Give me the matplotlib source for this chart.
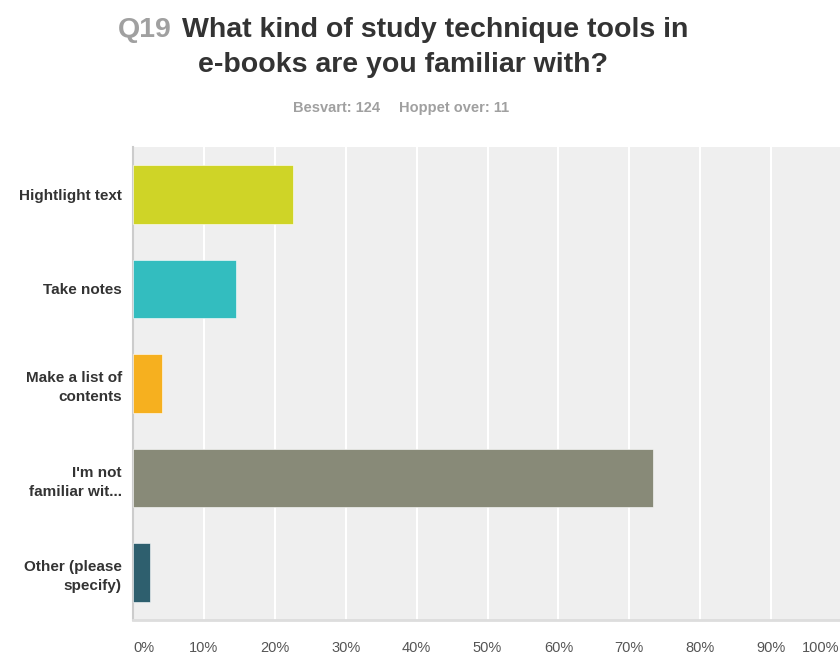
import matplotlib.pyplot as plt
import matplotlib.transforms as mtransforms
import numpy as np

# Survey answers (share of respondents, %)
categories = [
    "Hightlight text",
    "Take notes",
    "Make a list of\ncontents",
    "I'm not\nfamiliar wit...",
    "Other (please\nspecify)",
]
percent = [22.58, 14.52, 4.03, 73.39, 2.42]
colors = ["#cfd427", "#33bdbf", "#f6b01f", "#888a78", "#2e5f6e"]
tick_values = list(range(0, 101, 10))
tick_labels = [f"{v}%" for v in tick_values]

W, H = 840, 654
fig = plt.figure(figsize=(W / 100, H / 100), dpi=100)
fig.patch.set_facecolor("white")
plt.rcParams["font.family"] = ["Liberation Sans", "DejaVu Sans"]

# Plot area in pixels: left 133, right ~843, top 147, bottom 620
ax = fig.add_axes([133 / W, 1 - 620 / H, 709 / W, (620 - 147) / H])
ax.set_facecolor("#efefef")

y = np.arange(len(categories))
ax.barh(y, percent, height=0.62, color=colors, edgecolor="#ffffff", linewidth=0.4,
        zorder=3)
ax.set_ylim(len(categories) - 0.5, -0.5)
ax.set_xlim(0, 100)

ax.set_xticks(tick_values)
ax.set_xticklabels(tick_labels, fontsize=10.5, color="#555555")
ax.set_yticks(y)
ax.set_yticklabels(categories, fontsize=11, color="#333333", fontweight="bold",
                   linespacing=1.45)
ax.tick_params(axis="x", length=0, pad=15)
ax.tick_params(axis="y", length=0, pad=8)

# keep the end labels inside the figure
xlabels = ax.get_xticklabels()
xlabels[0].set_horizontalalignment("left")
xlabels[-1].set_horizontalalignment("right")
xlabels[-1].set_transform(xlabels[-1].get_transform()
                          + mtransforms.ScaledTranslation(-3 / 100, 0, fig.dpi_scale_trans))

ax.grid(axis="x", color="white", linewidth=1.5, zorder=1)
ax.set_axisbelow(True)
for side in ["top", "right"]:
    ax.spines[side].set_visible(False)
ax.spines["left"].set_color("#cccccc")
ax.spines["left"].set_linewidth(1.5)
ax.spines["bottom"].set_color("#dddddd")
ax.spines["bottom"].set_linewidth(2)

# Title: grey question number followed by dark question text
title_font = dict(fontweight="bold", fontsize=20.5)
q = fig.text(0, 1 - 37 / H, "Q19", color="#a0a0a0", va="baseline", **title_font)
t1 = fig.text(0, 1 - 37 / H, "What kind of study technique tools in", color="#333333",
              va="baseline", **title_font)
fig.text(403 / W, 1 - 72 / H, "e-books are you familiar with?", color="#333333",
         va="baseline", ha="center", **title_font)

renderer = fig.canvas.get_renderer()
wq = q.get_window_extent(renderer).width
wt = t1.get_window_extent(renderer).width
gap = 10
x0 = 403 - (wq + gap + wt) / 2
q.set_x(x0 / W)
t1.set_x((x0 + wq + gap) / W)

sub_font = dict(color="#a0a0a0", va="baseline", fontsize=10.5, fontweight="bold")
fig.text(380 / W, 1 - 112 / H, "Besvart: 124", ha="right", **sub_font)
fig.text(399 / W, 1 - 112 / H, "Hoppet over: 11", ha="left", **sub_font)

plt.savefig("out.png", dpi=100)
